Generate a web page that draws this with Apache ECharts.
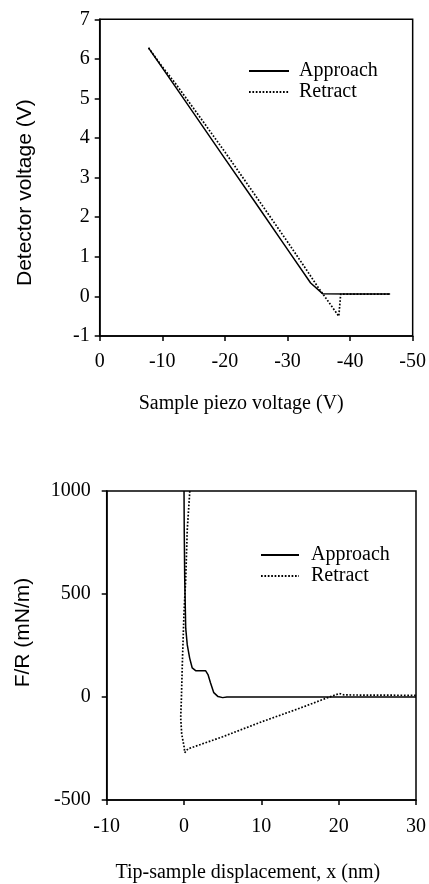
<!DOCTYPE html>
<html>
<head>
<meta charset="utf-8">
<script src="https://cdn.jsdelivr.net/npm/echarts@6/dist/echarts.min.js"></script>
<style>
html,body{margin:0;padding:0;background:#fff;}
#chart{width:429px;height:884px;}
</style>
</head>
<body>
<div id="chart"></div>
<script>
// ---- Top panel: detector voltage vs sample piezo voltage ----
var topApproach = [[-7.8,6.28],[-12,5.32],[-15,4.63],[-20,3.48],[-25,2.34],[-30,1.19],[-33.7,0.34],[-35.6,0.07],[-40,0.06],[-46.4,0.06]];
var topRetract = [[-7.8,6.28],[-10,5.8],[-12,5.4],[-15,4.75],[-20,3.65],[-25,2.52],[-30,1.38],[-33,0.68],[-34.8,0.25],[-38.2,-0.5],[-38.5,0.06],[-46.4,0.06]];
var topXTicks = [0,-10,-20,-30,-40,-50];
var topYTicks = [-1,0,1,2,3,4,5,6,7];

// ---- Bottom panel: F/R vs tip-sample displacement ----
var botApproach = [[0,1000],[0.03,800],[0.09,574],[0.22,333],[0.42,253],[0.73,189],[1.06,141],[1.5,128],[2.78,128],[3.1,109],[3.42,69],[3.85,21],[4.4,2],[5,-3],[5.55,0],[30,0]];
var botRetract = [[0.75,1000],[0.42,814],[0.22,574],[0,413],[-0.21,173],[-0.35,-20],[-0.43,-100],[-0.3,-180],[0,-240],[0.1,-270],[0.5,-252],[5,-193],[10,-121],[15,-54],[18.8,0],[20.1,17],[20.7,10],[30,8]];
var botXTicks = [-10,0,10,20,30];
var botYTicks = [-500,0,500,1000];

var SERIF = 'Liberation Serif';
var SANS = 'Liberation Sans';
function txt(extra){
  var o = {fontFamily: SERIF, fontSize: 20, color: '#000'};
  for (var k in extra) o[k] = extra[k];
  return o;
}
function axisCommon(){
  return {
    axisLine:{show:true,onZero:false,lineStyle:{color:'#000',width:1.5}},
    axisTick:{show:true,inside:false,length:5,lineStyle:{color:'#000',width:1.5}},
    splitLine:{show:false}
  };
}
function mk(base, extra){ for (var k in extra) base[k]=extra[k]; return base; }
function plain(v){ return String(v); }

var chart = echarts.init(document.getElementById('chart'), null, {renderer:'canvas'});
chart.setOption({
  backgroundColor:'#fff',
  animation:false,
  grid:[
    {left:99.7, top:19.3, width:316.3, height:316.7, show:true, borderColor:'#000', borderWidth:1.5, containLabel:false},
    {left:106.7, top:491, width:311.6, height:312.3, show:true, borderColor:'#000', borderWidth:1.5, containLabel:false}
  ],
  xAxis:[
    mk(axisCommon(), {type:'value', gridIndex:0, min:topXTicks[topXTicks.length-1], max:topXTicks[0], interval:10, inverse:true,
      name:'Sample piezo voltage (V)', nameLocation:'middle', nameGap:58,
      nameTextStyle:txt({padding:[0,30,0,0]}),
      axisLabel:txt({margin:16, formatter:plain})}),
    mk(axisCommon(), {type:'value', gridIndex:1, min:botXTicks[0], max:botXTicks[botXTicks.length-1], interval:10,
      name:'Tip-sample displacement, x (nm)', nameLocation:'middle', nameGap:63,
      nameTextStyle:txt({padding:[0,27,0,0]}),
      axisLabel:txt({margin:17, formatter:plain})})
  ],
  yAxis:[
    mk(axisCommon(), {type:'value', gridIndex:0, min:topYTicks[0], max:topYTicks[topYTicks.length-1], interval:1,
      name:'Detector voltage (V)', nameLocation:'middle', nameGap:64, nameRotate:90,
      nameTextStyle:txt({fontFamily:SANS, fontSize:21, padding:[0,30,0,0]}),
      axisLabel:txt({margin:10, formatter:plain})}),
    mk(axisCommon(), {type:'value', gridIndex:1, min:botYTicks[0], max:botYTicks[botYTicks.length-1], interval:500,
      name:'F/R (mN/m)', nameLocation:'middle', nameGap:73, nameRotate:90,
      nameTextStyle:txt({fontFamily:SANS, fontSize:21, padding:[0,0,0,26]}),
      axisLabel:txt({margin:16, formatter:plain})})
  ],
  legend:[
    {left:243, top:56, orient:'vertical', itemWidth:40, itemHeight:14, itemGap:1,
     itemStyle:{opacity:0},
     data:['Approach','Retract'], textStyle:txt({padding:[0,0,0,5]}), selectedMode:false},
    {left:255, top:540, orient:'vertical', itemWidth:38, itemHeight:14, itemGap:1,
     itemStyle:{opacity:0},
     data:['Approach','Retract'], textStyle:txt({padding:[0,0,0,7]}), selectedMode:false}
  ],
  series:[
    {name:'Approach', type:'line', xAxisIndex:0, yAxisIndex:0, data:topApproach, symbol:'none',
     lineStyle:{color:'#000', width:1.5, type:'solid'}, itemStyle:{color:'#000'}},
    {name:'Retract', type:'line', xAxisIndex:0, yAxisIndex:0, data:topRetract, symbol:'none',
     lineStyle:{color:'#000', width:1.7, type:[1.7,1.7]}, itemStyle:{color:'#000'}},
    {name:'Approach', type:'line', xAxisIndex:1, yAxisIndex:1, data:botApproach, symbol:'none',
     lineStyle:{color:'#000', width:1.5, type:'solid'}, itemStyle:{color:'#000'}},
    {name:'Retract', type:'line', xAxisIndex:1, yAxisIndex:1, data:botRetract, symbol:'none',
     lineStyle:{color:'#000', width:1.7, type:[1.7,1.7]}, itemStyle:{color:'#000'}}
  ]
});
</script>
</body>
</html>
